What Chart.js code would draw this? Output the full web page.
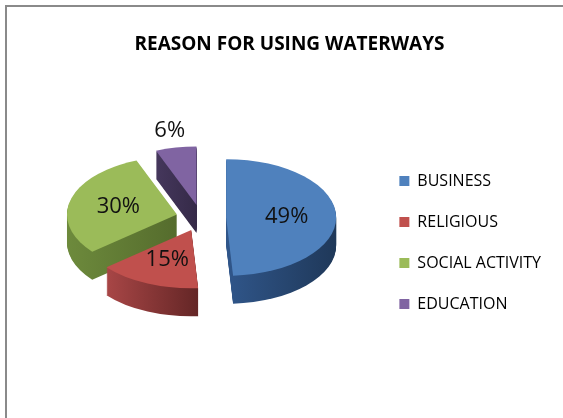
<!DOCTYPE html>
<html>
<head>
<meta charset="utf-8">
<script src="https://cdn.jsdelivr.net/npm/chart.js@4.4.1/dist/chart.umd.min.js"></script>
<style>
  html, body { margin: 0; padding: 0; background: #fff; }
  #wrap { position: relative; width: 563px; height: 418px; overflow: hidden; }
  #frame { position: absolute; left: 5px; top: 5px; width: 700px; height: 600px;
           border-left: 2px solid #8a8a8a; border-top: 2px solid #8a8a8a; pointer-events: none; }
</style>
</head>
<body>
<div id="wrap">
  <canvas id="ChartWaterways"></canvas>
  <div id="frame"></div>
</div>
<script>
const categories = ['BUSINESS', 'RELIGIOUS', 'SOCIAL ACTIVITY', 'EDUCATION'];
const shares = [49, 15, 30, 6];
const topColors = ['#4f81bd', '#c0504d', '#9bbb59', '#8064a2'];
const sideColors = [
    ['#30568a', '#1f3859'],
    ['#a84646', '#642626'],
    ['#6d8a3c', '#556c2d'],
    ['#45375c', '#352a48']
];

// look of the tilted pie
const TILT = 0.53;
const DEPTH = 28;
const EXPLODE = 25;

const pie3d = {
    id: 'pie3d',
    beforeDatasetsDraw(chart) {
        const ctx = chart.ctx;
        const arcs = chart.getDatasetMeta(0).data;
        const cy = arcs[0].y;
        const total = shares.reduce((s, v) => s + v, 0);

        const centre = (a) => {
            const mid = (a.startAngle + a.endAngle) / 2;
            return [a.x + Math.cos(mid) * EXPLODE, a.y + Math.sin(mid) * EXPLODE, mid];
        };
        const path = (a, lift) => {
            const [ox, oy] = centre(a);
            ctx.save();
            ctx.translate(0, cy + lift);
            ctx.scale(1, TILT);
            ctx.translate(0, -cy);
            ctx.beginPath();
            ctx.moveTo(ox, oy);
            ctx.arc(ox, oy, a.outerRadius, a.startAngle, a.endAngle);
            ctx.closePath();
            ctx.restore();
        };

        // side walls, stacked from the bottom up
        const fills = arcs.map((a, i) => {
            const [ox] = centre(a);
            let minX = ox, maxX = ox;
            for (let t = 0; t <= 20; t++) {
                const ang = a.startAngle + (a.endAngle - a.startAngle) * t / 20;
                const x = ox + Math.cos(ang) * a.outerRadius;
                minX = Math.min(minX, x);
                maxX = Math.max(maxX, x);
            }
            const g = ctx.createLinearGradient(minX, 0, maxX, 0);
            g.addColorStop(0, sideColors[i][0]);
            g.addColorStop(1, sideColors[i][1]);
            return g;
        });
        for (let d = DEPTH; d >= 1; d--) {
            arcs.forEach((a, i) => {
                path(a, d);
                ctx.fillStyle = fills[i];
                ctx.fill();
            });
        }

        // top faces
        arcs.forEach((a, i) => {
            path(a, 0);
            ctx.fillStyle = topColors[i];
            ctx.fill();
        });

        // percentage labels
        ctx.save();
        ctx.font = '22px "Open Sans"';
        ctx.fillStyle = '#111';
        ctx.textAlign = 'center';
        ctx.textBaseline = 'middle';
        arcs.forEach((a, i) => {
            const [ox, oy, mid] = centre(a);
            const f = shares[i] < 10 ? 1.3 : 0.55;
            const x = ox + Math.cos(mid) * a.outerRadius * f;
            const y = cy + (oy + Math.sin(mid) * a.outerRadius * f - cy) * TILT;
            ctx.fillText(Math.round(shares[i] / total * 100) + '%', x, y);
        });
        ctx.restore();
        return false;
    }
};

new Chart(document.getElementById('ChartWaterways'), {
    type: 'pie',
    data: {
        labels: categories,
        datasets: [{
            data: shares,
            backgroundColor: topColors,
            borderWidth: 0
        }]
    },
    options: {
        responsive: true,
        maintainAspectRatio: false,
        animation: false,
        radius: 110,
        layout: { padding: { left: 28, right: 12, top: 0, bottom: 38 } },
        plugins: {
            tooltip: { enabled: false },
            title: {
                display: true,
                text: 'REASON FOR USING WATERWAYS',
                color: '#000',
                font: { family: 'Open Sans', size: 19, weight: 'bold' },
                padding: { top: 33, bottom: 0 }
            },
            legend: {
                position: 'right',
                align: 'center',
                title: { display: true, text: '', padding: 46.5, font: { size: 10 } },
                labels: {
                    color: '#000',
                    font: { family: 'Open Sans', size: 16 },
                    boxWidth: 10,
                    boxHeight: 10,
                    padding: 25
                }
            }
        }
    },
    plugins: [pie3d]
});
</script>
</body>
</html>
